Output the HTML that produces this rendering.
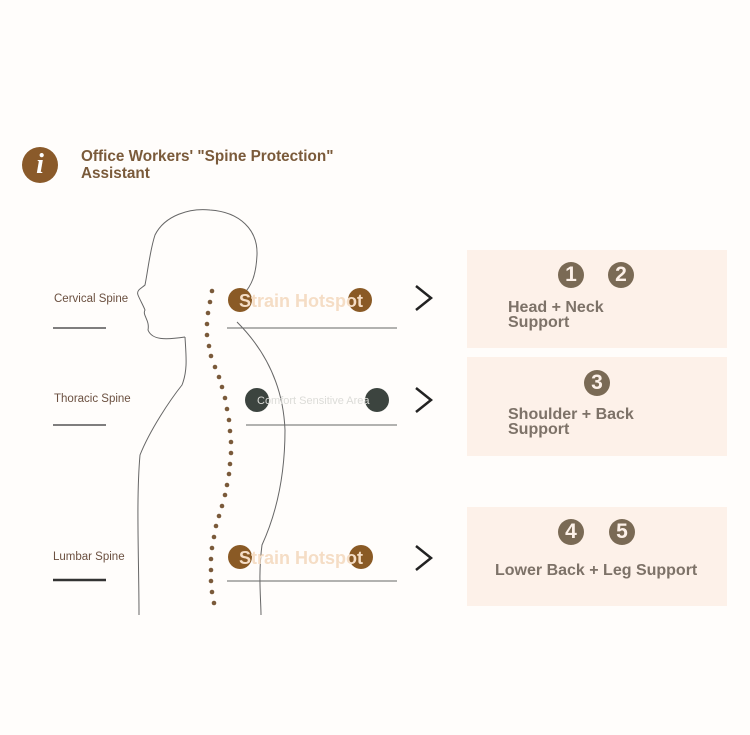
<!DOCTYPE html>
<html><head><meta charset="utf-8"><style>
body{margin:0;width:750px;height:735px;background:#fffdfb;font-family:"Liberation Sans",sans-serif;position:relative;overflow:hidden}
.t{position:absolute;white-space:nowrap}
.box{position:absolute;left:467px;width:260px;background:#fdf1e9}
.num{position:absolute;width:26px;height:26px;border-radius:50%;background:#7a6a55;color:#fdf1e9;font-size:21px;font-weight:bold;text-align:center;line-height:26px}
.bt{position:absolute;color:#7d7268;font-size:16px;font-weight:bold;line-height:15px}
.lab{position:absolute;color:#6b5040;font-size:11.5px}
</style></head><body>
<div style="position:absolute;left:22px;top:147px;width:36px;height:36px;border-radius:50%;background:#8a5a2a;color:#fff;font-family:'Liberation Serif',serif;font-style:italic;font-weight:bold;font-size:28px;text-align:center;line-height:36px">i</div>
<div class="t" style="left:81px;top:148px;color:#7a5a3a;font-size:15.3px;font-weight:bold;line-height:17px">Office Workers' "Spine Protection"<br>Assistant</div>

<svg width="750" height="735" style="position:absolute;left:0;top:0">
<g fill="none" stroke="#666" stroke-width="1">
<path d="M185,337 C165,340 152,340 148,330 C150,320 142,315 145,310 C143,305 140,300 138,295 C136,290 142,288 145,285 C148,270 150,250 155,235 C165,215 190,208 210,210 C240,212 258,230 257,255 C256,275 252,285 243,295"/>
<path d="M185,337 C186,355 188,370 182,385 C170,400 150,430 140,455 C136,500 139,560 139,615"/>
<path d="M237,322 C260,345 283,380 285,430 C285,470 278,510 262,545 C258,575 261,600 261,615"/>
</g>
<g fill="#7a5a3a">
<circle cx="212" cy="291" r="2.3"/><circle cx="210" cy="302" r="2.3"/><circle cx="208" cy="313" r="2.3"/><circle cx="207" cy="324" r="2.3"/><circle cx="207" cy="335" r="2.3"/><circle cx="209" cy="346" r="2.3"/><circle cx="211" cy="356" r="2.3"/><circle cx="215" cy="367" r="2.3"/><circle cx="219" cy="377" r="2.3"/><circle cx="222" cy="387" r="2.3"/><circle cx="225" cy="398" r="2.3"/><circle cx="227" cy="409" r="2.3"/><circle cx="229" cy="420" r="2.3"/><circle cx="230" cy="431" r="2.3"/><circle cx="231" cy="442" r="2.3"/><circle cx="231" cy="453" r="2.3"/><circle cx="230" cy="464" r="2.3"/><circle cx="229" cy="474" r="2.3"/><circle cx="227" cy="485" r="2.3"/><circle cx="225" cy="495" r="2.3"/><circle cx="222" cy="506" r="2.3"/><circle cx="219" cy="516" r="2.3"/><circle cx="216" cy="526" r="2.3"/><circle cx="214" cy="537" r="2.3"/><circle cx="212" cy="548" r="2.3"/><circle cx="211" cy="559" r="2.3"/><circle cx="211" cy="570" r="2.3"/><circle cx="211" cy="581" r="2.3"/><circle cx="212" cy="592" r="2.3"/><circle cx="214" cy="603" r="2.3"/>
</g>
<g stroke="#333" stroke-width="1.3"><line x1="53" y1="328" x2="106" y2="328"/><line x1="53" y1="425" x2="106" y2="425"/><line x1="53" y1="580" x2="106" y2="580" stroke-width="2.5"/></g>
<g stroke="#666" stroke-width="1"><line x1="227" y1="328" x2="397" y2="328"/><line x1="246" y1="425" x2="397" y2="425"/><line x1="227" y1="581" x2="397" y2="581"/></g>
<g fill="#8a5a25"><circle cx="240" cy="300" r="12"/><circle cx="360" cy="300" r="12"/><circle cx="240" cy="557" r="12"/><circle cx="361" cy="557" r="12"/></g>
<g fill="#3c443f"><circle cx="257" cy="400" r="12"/><circle cx="377" cy="400" r="12"/></g>
<g fill="none" stroke="#222" stroke-width="2.5"><path d="M416,286 L431,298 L416,310"/><path d="M416,388 L431,400 L416,412"/><path d="M416,546 L431,558 L416,570"/></g>
</svg>
<div class="t" style="left:239px;top:291px;color:#f5ddc5;font-size:18px;font-weight:bold">Strain Hotspot</div>
<div class="t" style="left:239px;top:548px;color:#f5ddc5;font-size:18px;font-weight:bold">Strain Hotspot</div>
<div class="t" style="left:257px;top:395px;color:#dcdcd8;font-size:11px">Comfort Sensitive Area</div>
<div class="lab" style="left:54px;top:293px">Cervical Spine</div>
<div class="lab" style="left:54px;top:393px">Thoracic Spine</div>
<div class="lab" style="left:53px;top:551px">Lumbar Spine</div>

<div class="box" style="top:250px;height:98px"></div>
<div class="box" style="top:357px;height:99px"></div>
<div class="box" style="top:507px;height:99px"></div>
<div class="num" style="left:558px;top:262px">1</div><div class="num" style="left:608px;top:262px">2</div>
<div class="bt" style="left:508px;top:300px">Head + Neck<br>Support</div>
<div class="num" style="left:584px;top:370px">3</div>
<div class="bt" style="left:508px;top:407px">Shoulder + Back<br>Support</div>
<div class="num" style="left:558px;top:519px">4</div><div class="num" style="left:609px;top:519px">5</div>
<div class="bt" style="left:495px;top:563px">Lower Back + Leg Support</div>
</body></html>
